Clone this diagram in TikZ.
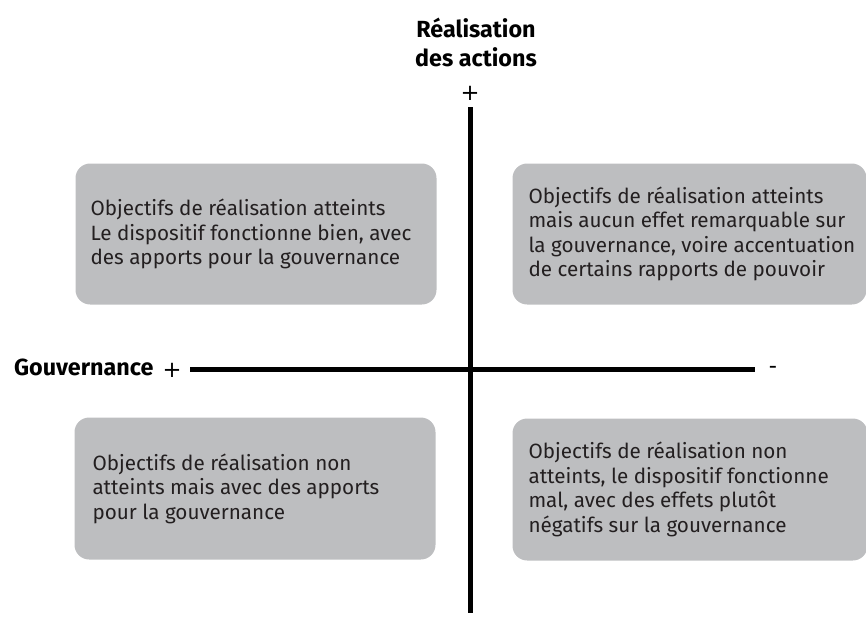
\documentclass[tikz,border=0pt]{standalone}
\usepackage{fontspec}
\setmainfont{Fira Sans}
\newfontfamily\signfont{DejaVu Sans}
\usetikzlibrary{positioning}
\definecolor{boxgray}{RGB}{189,190,192}
\definecolor{boxtext}{RGB}{35,31,32}

\tikzset{every picture/.style={line width=0.75pt}}
\tikzset{
	quadrant/.style={anchor=north west, fill=boxgray, rounded corners=11pt, minimum width=270.75pt, minimum height=105.75pt, inner sep=0},
	quadtext/.style={inner sep=0, align=left, text=boxtext, font=\fontsize{15.5}{18.4}\selectfont},
	axislabel/.style={inner sep=0, font=\fontsize{17.5}{21.75}\selectfont\bfseries},
	sign/.style={inner sep=0, font=\signfont\fontsize{17}{20}\selectfont},
	axis/.style={line width=3.75pt}
}

\begin{document}
\begin{tikzpicture}[x=0.75pt,y=0.75pt,yscale=-1,xscale=1]
	\useasboundingbox (0,0) rectangle (866,625);

	% Quadrant boxes
	\node [quadrant] (hautgauche) at (75,163) {};
	\node [quadrant, minimum width=265.5pt] (hautdroite) at (512,163) {};
	\node [quadrant, minimum height=106.5pt] (basgauche) at (74,417) {};
	\node [quadrant, minimum width=266.25pt, minimum height=106.5pt] (basdroite) at (512,418) {};

	% Text Node
	\node [quadtext, right=11.25pt of hautgauche.west] (texthg) {Objectifs de réalisation atteints\\Le dispositif fonctionne bien, avec\\des apports pour la gouvernance};
	% Text Node
	\node [quadtext, right=12pt of hautdroite.west] (texthd) {Objectifs de réalisation atteints\\mais aucun effet remarquable sur\\la gouvernance, voire accentuation\\de certains rapports de pouvoir};
	% Text Node
	\node [quadtext, right=13.5pt of basgauche.west] (textbg) {Objectifs de réalisation non\\atteints mais avec des apports\\pour la gouvernance};
	% Text Node
	\node [quadtext, right=12pt of basdroite.west] (textbd) {Objectifs de réalisation non\\atteints, le dispositif fonctionne\\mal, avec des effets plutôt\\négatifs sur la gouvernance};

	% Axis ends
	\coordinate (vtop) at (470,107);
	\coordinate (vbot) at (470,613);
	\coordinate (hleft) at (190,369);
	\coordinate (hright) at (755,369);

	% Axes
	\draw [axis] (vtop) -- (vbot);
	\draw [axis] (hleft) -- (hright);

	% Text Node
	\node [axislabel, align=center] (realisation) at (476,42) {Réalisation\\des actions};
	% Text Node
	\node [sign] (plushaut) at (470,93) {+};
	% Text Node
	\node [axislabel, anchor=base east] (gouvernance) at (154,375) {Gouvernance};
	% Text Node
	\node [sign, anchor=base west] (plusgauche) at (162,377) {+};
	% Text Node
	\node [sign, anchor=base] (moinsdroite) at (773,373) {-};

\end{tikzpicture}
\end{document}
